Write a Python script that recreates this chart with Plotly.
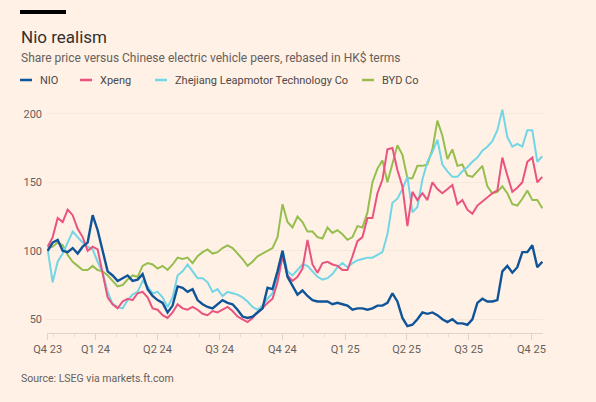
import pandas as pd
import plotly.graph_objects as go

# weekly readings, late Oct 2023 -> mid Oct 2025, rebased to 100
dates = pd.date_range("2023-10-23", "2025-10-17", periods=100)

nio = [100, 106, 108, 100, 99, 102, 98, 103, 106, 126,
       115, 100, 85, 82, 78, 80, 82, 78, 79, 83,
       72, 67, 64, 62, 55, 60, 74, 73, 70, 72,
       64, 61, 59, 58, 61, 64, 62, 61, 57, 52,
       51, 52, 55, 58, 73, 72, 85, 100, 81, 74,
       68, 71, 67, 64, 63, 63, 63, 61, 62, 61,
       60, 57, 58, 58, 57, 58, 60, 60, 62, 69,
       63, 51, 45, 46, 50, 55, 54, 55, 53, 50,
       48, 50, 47, 47, 46, 50, 62, 65, 63, 63,
       64, 85, 89, 84, 88, 99, 99, 104, 88, 92]

xpeng = [103, 110, 124, 121, 130, 126, 116, 110, 100, 103,
         101, 83, 66, 61, 58, 63, 65, 64, 69, 70,
         66, 58, 57, 53, 51, 55, 61, 58, 57, 59,
         57, 54, 53, 56, 55, 57, 59, 56, 52, 50,
         48, 51, 55, 58, 62, 65, 77, 96, 82, 78,
         81, 87, 108, 90, 84, 91, 92, 90, 89, 86,
         86, 96, 107, 110, 124, 124, 142, 152, 174, 175,
         159, 147, 118, 143, 137, 142, 137, 150, 145, 142,
         145, 148, 134, 137, 130, 127, 133, 136, 139, 142,
         144, 168, 155, 143, 146, 150, 165, 168, 150, 154]

leapmotor = [101, 77, 92, 98, 106, 114, 110, 106, 103, 101,
             92, 84, 70, 61, 59, 58, 64, 68, 70, 78,
             74, 69, 70, 66, 59, 66, 82, 85, 90, 85,
             80, 80, 77, 70, 72, 67, 70, 69, 68, 66,
             63, 59, 57, 60, 65, 69, 80, 100, 85, 82,
             86, 90, 89, 85, 81, 79, 80, 83, 88, 91,
             88, 91, 93, 94, 95, 95, 97, 99, 112, 135,
             138, 145, 154, 128, 132, 152, 165, 172, 181, 163,
             158, 154, 154, 158, 161, 165, 168, 173, 176, 180,
             188, 203, 183, 176, 178, 176, 188, 188, 165, 169]

byd = [102, 103, 106, 104, 97, 92, 89, 86, 86, 89,
       86, 85, 82, 78, 74, 75, 79, 82, 81, 89,
       91, 90, 87, 89, 86, 90, 95, 94, 95, 91,
       96, 99, 101, 98, 99, 102, 104, 102, 98, 94,
       89, 92, 96, 98, 100, 102, 110, 134, 121, 117,
       125, 121, 114, 114, 110, 109, 117, 113, 115, 112,
       108, 110, 118, 117, 128, 150, 160, 166, 150, 163,
       177, 170, 153, 153, 162, 162, 163, 174, 195, 184,
       167, 174, 162, 163, 155, 154, 158, 162, 147, 142,
       143, 147, 142, 134, 133, 138, 144, 137, 137, 131]

names = ["NIO", "Xpeng", "Zhejiang Leapmotor Technology Co", "BYD Co"]
colors = ["#0f5499", "#e9537e", "#72d6e6", "#96be4f"]
series = [nio, xpeng, leapmotor, byd]

tick_vals = ["2023-10-23", "2024-01-01", "2024-04-01", "2024-07-01", "2024-10-01",
             "2025-01-01", "2025-04-01", "2025-07-01", "2025-10-01"]
tick_text = ["Q4 23", "Q1 24", "Q2 24", "Q3 24", "Q4 24",
             "Q1 25", "Q2 25", "Q3 25", "Q4 25"]

W, H = 596, 402
L, R, T, B = 47, 53, 105, 69
FONT = "Roboto"
BG = "#fff1e5"


def px(x):
    return (x - L) / (W - L - R)


def py(y):
    return (H - B - y) / (H - T - B)


fig = go.Figure()
# draw NIO last so it sits on top
for i in [3, 2, 1, 0]:
    fig.add_trace(go.Scatter(
        x=dates,
        y=series[i],
        mode='lines',
        name=names[i],
        line=dict(color=colors[i], width=2.4 if i == 0 else 2),
        showlegend=False
    ))

shapes = [dict(type="rect", xref="paper", yref="paper",
               x0=px(20), x1=px(66), y0=py(14), y1=py(10),
               fillcolor="#000000", line_width=0)]
annotations = [
    dict(text="Nio realism", x=px(19), y=py(37), xref="paper", yref="paper",
         xanchor="left", yanchor="middle", showarrow=False,
         font=dict(family=FONT, size=17, color="#33302e")),
    dict(text="Share price versus Chinese electric vehicle peers, rebased in HK$ terms",
         x=px(19), y=py(58), xref="paper", yref="paper",
         xanchor="left", yanchor="middle", showarrow=False,
         font=dict(family=FONT, size=12, color="#66605c")),
    dict(text="Source: LSEG via markets.ft.com", x=px(19), y=py(378),
         xref="paper", yref="paper", xanchor="left", yanchor="middle",
         showarrow=False, font=dict(family=FONT, size=10.5, color="#66605c")),
]

legend_x = [20, 80, 155, 362]
for i, lx in enumerate(legend_x):
    shapes.append(dict(type="line", xref="paper", yref="paper",
                       x0=px(lx), x1=px(lx + 12), y0=py(80), y1=py(80),
                       line=dict(color=colors[i], width=2.5)))
    annotations.append(dict(text=names[i], x=px(lx + 18), y=py(80),
                            xref="paper", yref="paper", xanchor="left",
                            yanchor="middle", showarrow=False,
                            font=dict(family=FONT, size=11, color="#4d4845")))

fig.update_layout(
    width=W, height=H,
    margin=dict(l=L, r=R, t=T, b=B),
    paper_bgcolor=BG, plot_bgcolor=BG,
    shapes=shapes, annotations=annotations,
    font=dict(family=FONT, size=11, color="#66605c"),
)
fig.update_xaxes(
    range=["2023-10-22", "2025-10-18"],
    tickmode="array", tickvals=tick_vals, ticktext=tick_text,
    showgrid=False, showline=True, linecolor="#e0d3c8", linewidth=1,
    ticks="outside", ticklen=6, tickcolor="#e0d3c8",
    minor=dict(ticks="outside", ticklen=3, tickcolor="#e8dcd1",
               dtick="M1", tick0="2023-11-01"),
    tickfont=dict(size=11, color="#66605c"),
)
fig.update_yaxes(
    range=[40, 206.4],
    tickvals=[50, 100, 150, 200],
    showgrid=True, gridcolor="#f6e8dc", zeroline=False,
    ticks="", ticklabelstandoff=4,
    tickfont=dict(size=11, color="#66605c"),
)

fig.write_html("out.html",
               config={"displayModeBar": False},
               post_script="document.body.style.margin='0';"
                           "document.body.style.background='" + BG + "';")
